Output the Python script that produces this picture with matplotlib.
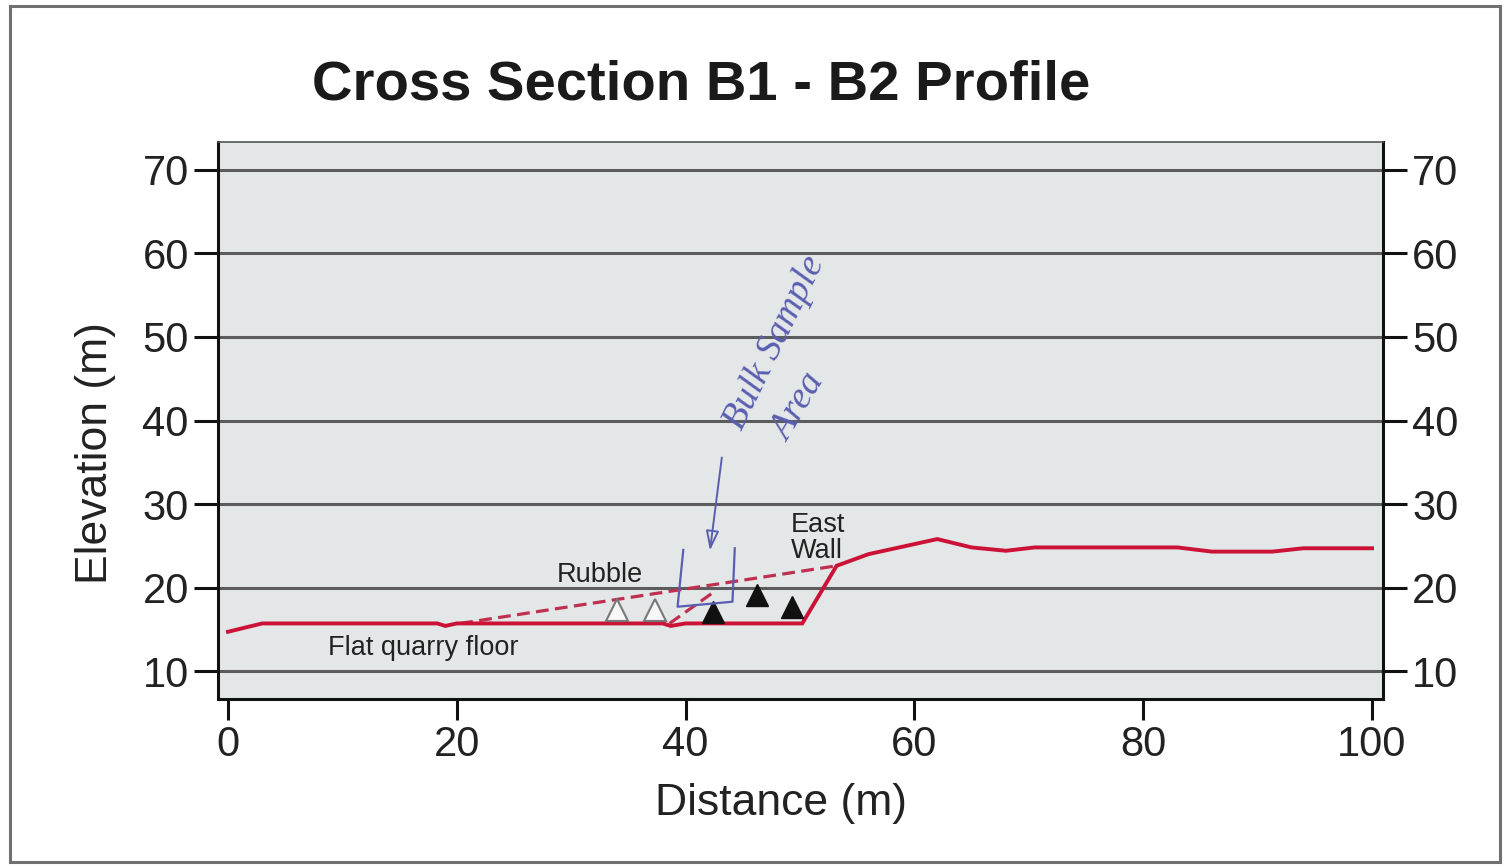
import matplotlib
matplotlib.use("Agg")
import matplotlib.pyplot as plt
from matplotlib.patches import Rectangle

# ---- data ----
distance = [0, 3, 18.3, 19.0, 20.0, 38.0, 38.7, 40.0, 50.2, 53.2, 56.0, 62.0,
            65.0, 68.0, 70.5, 83.0, 86.0, 91.3, 94.0, 100.0]
elevation = [14.7, 15.7, 15.7, 15.4, 15.7, 15.7, 15.4, 15.7, 15.7, 22.6, 24.0, 25.8,
             24.8, 24.4, 24.8, 24.8, 24.3, 24.3, 24.7, 24.7]

rubble_x = [20.3, 53.2]
rubble_y = [15.7, 22.6]
rubble2_x = [38.6, 42.3]
rubble2_y = [15.7, 19.3]

open_tri_x = [34.0, 37.3]
open_tri_y = [17.3, 17.3]
filled_tri_x = [42.4, 46.2, 49.3]
filled_tri_y = [17.1, 19.1, 17.7]

bracket_x = [39.8, 39.3, 44.1, 44.3]
bracket_y = [24.5, 17.7, 18.3, 24.7]

yticks = [10, 20, 30, 40, 50, 60, 70]
xticks = [0, 20, 40, 60, 80, 100]

W, H = 1507, 866
fig = plt.figure(figsize=(W / 100, H / 100), dpi=100)
fig.patch.set_facecolor("white")

# outer frame
fig.patches.append(Rectangle((10 / W, 1 - 862 / H), 1490 / W, 856 / H,
                             transform=fig.transFigure, fill=False,
                             edgecolor="#707070", lw=2.2))

ax = fig.add_axes([218 / W, 1 - 699 / H, (1383 - 218) / W, (699 - 142) / H])
ax.set_facecolor("#e4e7e7")
ax.set_xlim(-0.87, 100.96)
ax.set_ylim(6.65, 73.35)

for yv in yticks:
    ax.axhline(yv, color="#5c5c5c", lw=2.2, zorder=1)

font = "Liberation Sans"
ax.set_yticks(yticks)
ax.set_xticks(xticks)
ax.set_xticklabels([str(v) for v in xticks], fontsize=30, family=font, color="#222222")
ax.set_yticklabels([str(v) for v in yticks], fontsize=30, family=font, color="#222222")
ax.tick_params(axis="y", which="both", direction="out", length=17, width=2.2,
               left=True, right=True, labelleft=True, labelright=True, pad=4,
               color="#111111")
ax.tick_params(axis="x", direction="out", length=15, width=2.2, pad=4, color="#111111")
for s in ax.spines.values():
    s.set_linewidth(2.2)
    s.set_color("#111111")
ax.spines["top"].set_linewidth(1.2)
ax.spines["top"].set_color("#555555")

# profile
ax.plot(distance, elevation, color="#cc1236", lw=2.8, zorder=4, solid_joinstyle="miter")
ax.plot(rubble_x, rubble_y, color="#bf2f50", lw=2.3, ls=(0, (4, 2)), zorder=3)
ax.plot(rubble2_x, rubble2_y, color="#bf2f50", lw=2.3, ls=(0, (4, 2)), zorder=3)

ax.plot(open_tri_x, open_tri_y, ls="none", marker="^", markersize=16.5,
        markerfacecolor="#f7f7f7", markeredgecolor="#777777", markeredgewidth=1.5, zorder=5)
ax.plot(filled_tri_x, filled_tri_y, ls="none", marker="^", markersize=16.5,
        markerfacecolor="#111111", markeredgecolor="#111111", zorder=5)

# labels inside
ax.text(8.74, 11.9, "Flat quarry floor", fontsize=19.5, family=font, color="#222222",
        ha="left", va="baseline", zorder=6)
ax.text(28.7, 20.66, "Rubble", fontsize=19.5, family=font, color="#222222",
        ha="left", va="baseline", zorder=6)
ax.text(49.2, 26.65, "East", fontsize=19.5, family=font, color="#222222",
        ha="left", va="baseline", zorder=6)
ax.text(49.2, 23.5, "Wall", fontsize=19.5, family=font, color="#222222",
        ha="left", va="baseline", zorder=6)

# handwritten annotation
blue = "#5a5eb0"
ax.plot(bracket_x, bracket_y, color=blue, lw=1.6, zorder=6)
ax.annotate("", xy=(42.1, 24.1), xytext=(43.2, 35.9),
            arrowprops=dict(arrowstyle="-|>,head_length=1.2,head_width=0.4",
                            color=blue, lw=1.4, fill=False), zorder=6)
ax.text(47.8, 49.3, "Bulk Sample", fontsize=27, family="Liberation Serif", style="italic",
        color=blue, rotation=64, ha="center", va="center", zorder=6)
ax.text(49.9, 41.5, "Area", fontsize=27, family="Liberation Serif", style="italic",
        color=blue, rotation=59, ha="center", va="center", zorder=6)

# titles
fig.text(701 / W, 1 - 100 / H, "Cross Section B1 - B2 Profile", fontsize=40.5,
         fontweight="bold", family=font, color="#1a1a1a", ha="center", va="baseline")
fig.text(781 / W, 1 - 815 / H, "Distance (m)", fontsize=32, family=font,
         color="#222222", ha="center", va="baseline")
fig.text(95 / W, 1 - 453 / H, "Elevation (m)", fontsize=32, family=font,
         color="#222222", ha="center", va="center", rotation=90)

fig.savefig("out.png", dpi=100)
